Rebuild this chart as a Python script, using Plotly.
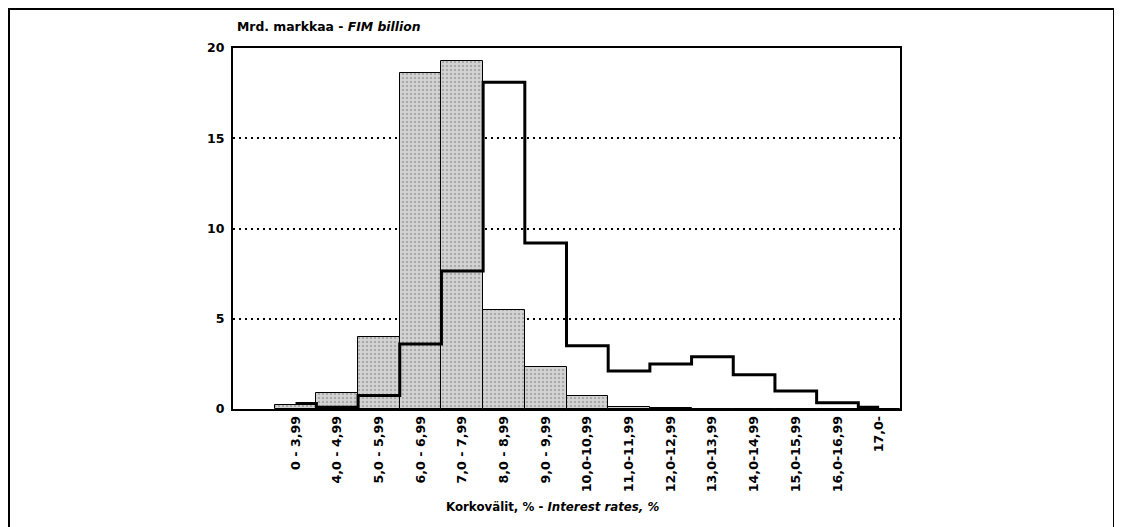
import plotly.graph_objects as go

categories = ["0 - 3,99", "4,0 - 4,99", "5,0 - 5,99", "6,0 - 6,99", "7,0 - 7,99",
              "8,0 - 8,99", "9,0 - 9,99", "10,0-10,99", "11,0-11,99", "12,0-12,99",
              "13,0-13,99", "14,0-14,99", "15,0-15,99", "16,0-16,99", "17,0-"]
gray_values = [0.2, 0.9, 4.0, 18.6, 19.3, 5.5, 2.3, 0.7, 0.1, 0.05, 0, 0, 0, 0, 0]
black_values = [0.3, 0.1, 0.75, 3.6, 7.65, 18.1, 9.2, 3.5, 2.1, 2.5, 2.9, 1.9, 1.0, 0.35, 0.1]
y_ticks = [0, 5, 10, 15, 20]

idx = list(range(len(categories)))
FONT = "DejaVu Sans"

# page has an 8px body margin; work in page pixels and convert
OFF = 8
W, H = 1122 - OFF, 527 - OFF
L, R, T, B = 233 - OFF, 900 - OFF, 48 - OFF, 409 - OFF
pw, ph = R - L, B - T

def px_x(p):
    return (p - OFF - L) / pw

def px_y(p):
    return (B - (p - OFF)) / ph

fig = go.Figure()
fig.add_trace(go.Bar(
    x=idx, y=gray_values, width=1,
    marker=dict(color="#cccccc",
                line=dict(color="black", width=1),
                pattern=dict(shape=".", fgcolor="#808080", bgcolor="#d4d4d4",
                             size=4, solidity=0.3)),
    showlegend=False, hoverinfo="skip"))
fig.add_trace(go.Scatter(
    x=idx, y=black_values, mode="lines", line_shape="hvh",
    line=dict(color="black", width=3),
    showlegend=False, hoverinfo="skip"))

fig.update_layout(
    width=W, height=H,
    margin=dict(l=L, r=W - R, t=T, b=H - B, pad=0),
    paper_bgcolor="white", plot_bgcolor="white",
    font=dict(family=FONT, size=12, color="black", weight="bold"),
    bargap=0,
)
fig.update_xaxes(
    range=[-1.5, len(categories) - 0.5],
    tickmode="array", tickvals=idx, ticktext=categories,
    tickangle=-90, showgrid=False, zeroline=False,
    showline=True, linecolor="black", linewidth=2, mirror=True,
    ticks="", tickfont=dict(family=FONT, size=12.6, weight="bold"),
)
fig.update_yaxes(
    range=[0, 20], tickmode="array", tickvals=y_ticks,
    showgrid=True, gridcolor="black", gridwidth=1.5, griddash="2px,4px",
    zeroline=False, showline=True, linecolor="black", linewidth=2, mirror=True,
    ticks="", ticklabelstandoff=4,
    tickfont=dict(family=FONT, size=12.5, weight="bold"),
)

fig.add_annotation(
    text="Mrd. markkaa - <i>FIM billion</i>", xref="paper", yref="paper",
    x=px_x(235), y=px_y(27), xanchor="left", yanchor="middle", showarrow=False,
    font=dict(family=FONT, size=12.4, weight="bold"))
fig.add_annotation(
    text="Korkovälit, % - <i>Interest rates, %</i>", xref="paper", yref="paper",
    x=px_x(552), y=px_y(507), xanchor="center", yanchor="middle", showarrow=False,
    font=dict(family=FONT, size=11.8, weight="bold"))

fig.add_shape(type="rect", xref="paper", yref="paper",
              x0=px_x(9), x1=px_x(1114), y0=px_y(540), y1=px_y(9),
              line=dict(color="black", width=2), layer="below")

fig.write_html("out.html")
